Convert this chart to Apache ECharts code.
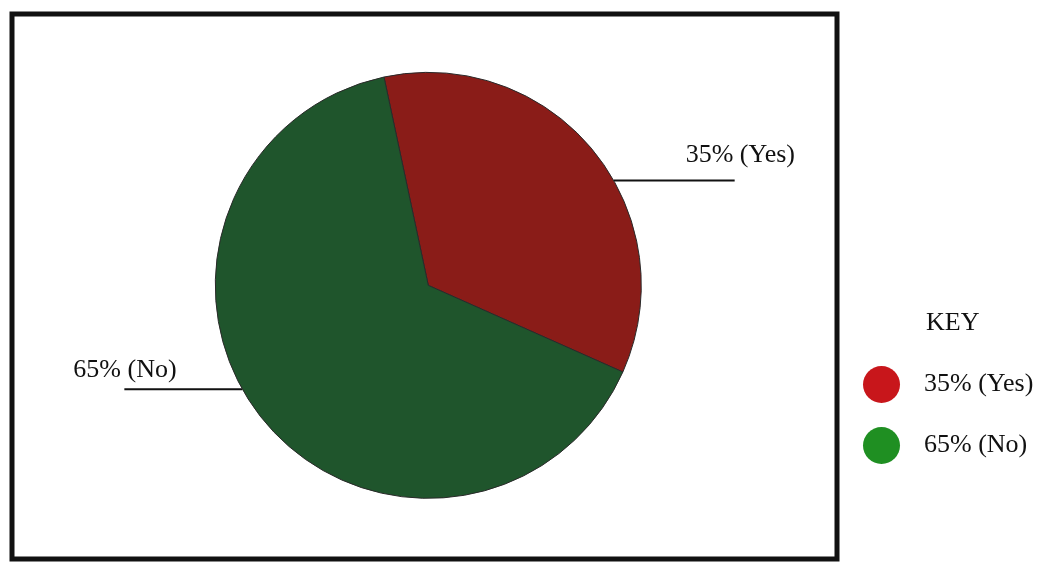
<!DOCTYPE html>
<html>
<head>
<meta charset="utf-8">
<script src="https://cdn.jsdelivr.net/npm/echarts@6/dist/echarts.min.js"></script>
<style>
html,body{margin:0;padding:0;background:#fff;}
#chart{width:1051px;height:569px;}
</style>
</head>
<body>
<div id="chart"></div>
<script>
// ---- data ----
const categories = ['Yes', 'No'];
const values = [35, 65];
const sliceColors = ['#8a1c18', '#1f552c'];
const keyColors = ['#c8161b', '#1f8f22'];
const keyTitle = 'KEY';

// ---- layout constants ----
const FONT = '"Liberation Serif", "Times New Roman", serif';
const CX = 0.4075, CY = 0.5015, R = 213;
// leader line anchor angles (deg, clockwise from top) and label placement
const labelCfg = [
  { ang: 60.5, lineLen: 121, textDx: -49, textDy: -25 },
  { ang: 240.8, lineLen: -118, textDx: -55, textDy: -19 }
];

const chart = echarts.init(document.getElementById('chart'));
const W = chart.getWidth(), H = chart.getHeight();

const data = categories.map((c, i) => ({
  name: c, value: values[i], itemStyle: { color: sliceColors[i] }
}));

chart.setOption({
  backgroundColor: '#ffffff',
  animation: false,
  title: {
    text: keyTitle, left: 921, top: 305,
    textStyle: { fontFamily: FONT, fontSize: 26, fontWeight: 'normal', color: '#111' }
  },
  legend: {
    orient: 'vertical', left: 858, top: 361,
    icon: 'circle', itemWidth: 37, itemHeight: 37, itemGap: 24,
    data: categories.map((c, i) => ({
      name: c, itemStyle: { color: keyColors[i], borderWidth: 0 }
    })),
    formatter: function (name) {
      const i = categories.indexOf(name);
      return values[i] + '% (' + name + ')';
    },
    textStyle: { fontFamily: FONT, fontSize: 26, color: '#111', padding: [0, 0, 0, 19] }
  },
  graphic: [{
    type: 'rect', shape: { x: 12, y: 14, width: 825, height: 545 },
    style: { fill: null, stroke: '#111', lineWidth: 5 }, z: 10
  }],
  series: [{
    type: 'pie',
    center: [(CX * 100) + '%', (CY * 100) + '%'],
    radius: R,
    startAngle: 102,
    clockwise: true,
    data: data,
    itemStyle: { borderColor: '#2a2a2a', borderWidth: 1 },
    emphasis: { disabled: true },
    label: {
      show: true, position: 'outside',
      formatter: '{c}% ({b})',
      fontFamily: FONT, fontSize: 26, color: '#111'
    },
    labelLine: { show: true, length: 5, length2: 100, lineStyle: { color: '#111', width: 2 } },
    labelLayout: function (params) {
      const cfg = labelCfg[params.dataIndex];
      const cx = W * CX, cy = H * CY;
      const a = cfg.ang * Math.PI / 180;
      const x0 = cx + R * Math.sin(a), y0 = cy - R * Math.cos(a);
      const x1 = x0 + cfg.lineLen;
      const xl = x1 + cfg.textDx + (params.dataIndex === 1 ? 4 : 0);
      return {
        x: xl, y: y0 + cfg.textDy, align: 'left', verticalAlign: 'middle',
        labelLinePoints: [[x0, y0], [(x0 + x1) / 2, y0], [x1, y0]]
      };
    }
  }]
});
</script>
</body>
</html>
